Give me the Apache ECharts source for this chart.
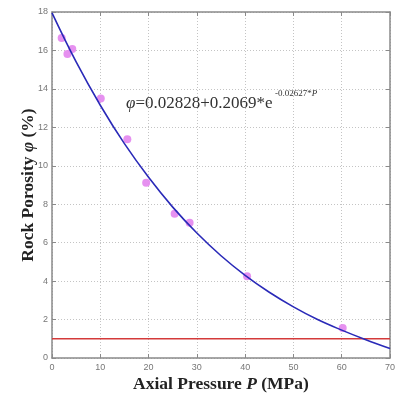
<!DOCTYPE html>
<html>
<head>
<meta charset="utf-8">
<script src="https://cdn.jsdelivr.net/npm/echarts@6/dist/echarts.min.js"></script>
<style>html,body{margin:0;padding:0;background:#fff}#c{width:400px;height:401px}</style>
</head>
<body>
<div id="c"></div>
<script>
// Measured points (Axial Pressure P in MPa, Rock Porosity in %)
var measuredP = [2.0, 3.2, 4.2, 10.1, 15.6, 19.5, 25.4, 28.5, 40.4, 60.2];
var measuredPhi = [16.65, 15.82, 16.08, 13.5, 11.38, 9.12, 7.51, 7.04, 4.25, 1.56];
// Fitted curve
var fitP = [0, 5, 10, 15, 20, 25, 30, 35, 40, 45, 50, 55, 60, 65, 70];
var fitPhi = [17.95, 15.4, 13.15, 11.15, 9.4, 7.85, 6.5, 5.32, 4.3, 3.42, 2.66, 2.0, 1.45, 0.95, 0.49];
// Reference line
var refP = [0, 70];
var refPhi = [1, 1];
var xTicks = [0, 10, 20, 30, 40, 50, 60, 70];
var yTicks = [0, 2, 4, 6, 8, 10, 12, 14, 16, 18];

function pairs(a, b) { return a.map(function (v, i) { return [v, b[i]]; }); }

var chart = echarts.init(document.getElementById('c'), null, {renderer: 'canvas'});
var axisLineStyle = {color: '#8a8a8a', width: 1.5};
var gridLine = {show: true, lineStyle: {color: '#c4c4c4', type: [1, 2], width: 1}};
var labelStyle = {color: '#777', fontSize: 9, fontFamily: 'Liberation Sans'};
var titleRich = {
  b: {fontFamily: 'Liberation Serif', fontWeight: 'bold', fontSize: 17.5, color: '#222'},
  bi: {fontFamily: 'Liberation Serif', fontWeight: 'bold', fontStyle: 'italic', fontSize: 17.5, color: '#222'}
};
chart.setOption({
  animation: false,
  backgroundColor: '#fff',
  grid: {left: 52, right: 10, top: 12, bottom: 43},
  xAxis: [{
    type: 'value', min: xTicks[0], max: xTicks[xTicks.length - 1], interval: 10,
    axisLine: {show: true, onZero: false, lineStyle: axisLineStyle},
    axisTick: {show: true, inside: true, length: 4, lineStyle: {color: '#8a8a8a'}},
    axisLabel: Object.assign({margin: 5}, labelStyle),
    splitLine: gridLine,
    name: '{b|Axial Pressure }{bi|P}{b| (MPa)}',
    nameLocation: 'middle', nameGap: 17, nameMoveOverlap: false,
    nameTextStyle: {rich: titleRich}
  }, {
    type: 'value', position: 'top', min: xTicks[0], max: xTicks[xTicks.length - 1], interval: 10,
    axisLine: {show: true, onZero: false, lineStyle: axisLineStyle},
    axisTick: {show: true, inside: true, length: 4, lineStyle: {color: '#8a8a8a'}},
    axisLabel: {show: false}, splitLine: {show: false}
  }],
  yAxis: [{
    type: 'value', min: yTicks[0], max: yTicks[yTicks.length - 1], interval: 2,
    axisLine: {show: true, onZero: false, lineStyle: axisLineStyle},
    axisTick: {show: true, inside: true, length: 4, lineStyle: {color: '#8a8a8a'}},
    axisLabel: Object.assign({margin: 4}, labelStyle),
    splitLine: gridLine,
    name: '{b|Rock Porosity }{bi|φ}{b| (%)}',
    nameLocation: 'middle', nameGap: 15, nameRotate: 90, nameMoveOverlap: false,
    nameTextStyle: {rich: titleRich}
  }, {
    type: 'value', position: 'right', min: yTicks[0], max: yTicks[yTicks.length - 1], interval: 2,
    axisLine: {show: true, onZero: false, lineStyle: axisLineStyle},
    axisTick: {show: true, inside: true, length: 4, lineStyle: {color: '#8a8a8a'}},
    axisLabel: {show: false}, splitLine: {show: false}
  }],
  series: [{
    type: 'line', data: pairs(refP, refPhi), showSymbol: false,
    lineStyle: {color: '#d43a3a', width: 1.5}, z: 2
  }, {
    type: 'line', data: pairs(fitP, fitPhi), smooth: 0.4, showSymbol: false,
    lineStyle: {color: '#2a2ab8', width: 1.6}, z: 4
  }, {
    type: 'scatter', data: pairs(measuredP, measuredPhi), symbolSize: 8,
    itemStyle: {color: '#e58bef', opacity: 0.95}, z: 3
  }],
  graphic: [{
    type: 'text', left: 126, top: 95,
    style: {
      text: '{i|φ}{n|=0.02828+0.2069*e}',
      rich: {
        i: {fontFamily: 'Liberation Serif', fontStyle: 'italic', fontSize: 17, fill: '#333'},
        n: {fontFamily: 'Liberation Serif', fontSize: 17, fill: '#333'}
      }
    }
  }, {
    type: 'text', left: 275, top: 89,
    style: {
      text: '{n|-0.02627*}{i|P}',
      rich: {
        i: {fontFamily: 'Liberation Serif', fontStyle: 'italic', fontSize: 9, fill: '#333'},
        n: {fontFamily: 'Liberation Serif', fontSize: 9, fill: '#333'}
      }
    }
  }]
});
</script>
</body>
</html>
